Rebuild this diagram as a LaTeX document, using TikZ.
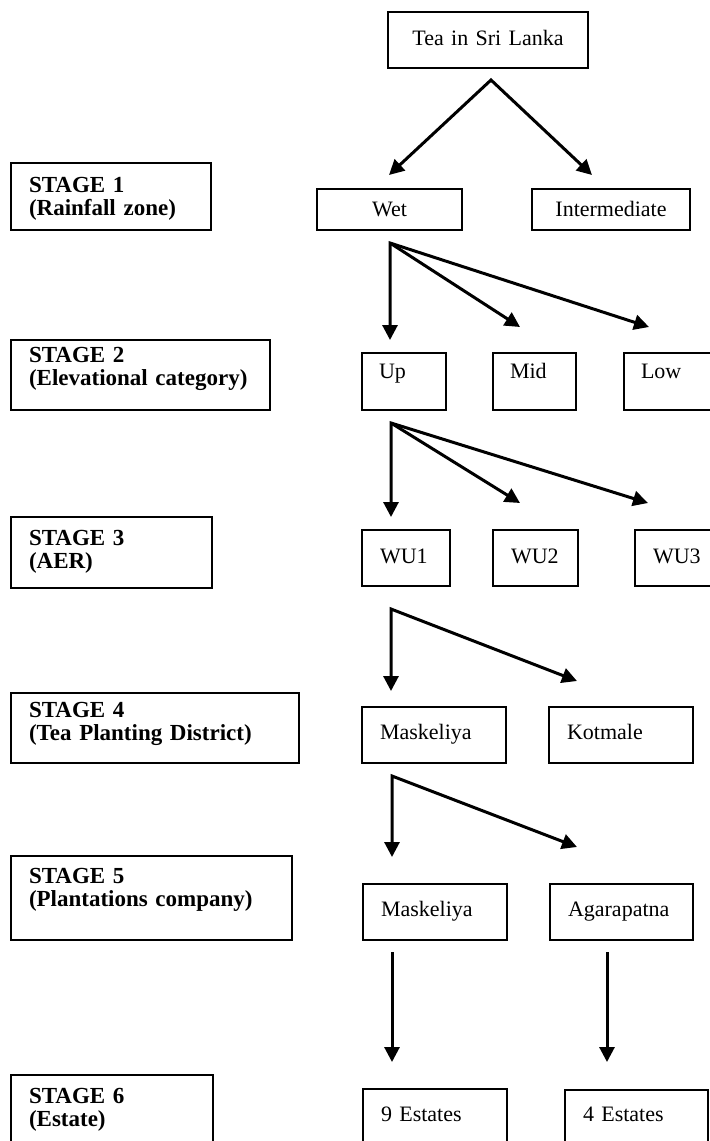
\documentclass[tikz,border=0pt]{standalone}
\usepackage{fontspec}
\setmainfont{Liberation Serif}
\usetikzlibrary{arrows.meta}
\begin{document}
\begin{tikzpicture}[x=0.5pt,y=-0.5pt,
  box/.style={draw, line width=0.9pt, outer sep=0pt, inner ysep=0pt, anchor=north west, font=\fontsize{11}{13}\selectfont},
  cbox/.style={box, align=center, inner xsep=0pt},
  lbox/.style={box, align=left, inner xsep=9pt},
  ubox/.style={box, align=left, inner xsep=8.5pt},
  stagebox/.style={box, align=left, inner xsep=9pt, font=\fontsize{11.5}{11.5}\selectfont\bfseries},
  sz/.style n args={3}{text width=#1, text height=#2, text depth=#3},
  arr/.style={line width=1.5pt, -{Triangle[length=7.5pt,width=7.5pt]}},
  darr/.style={line width=1.5pt, line join=miter, {Triangle[length=7.5pt,width=7.5pt]}-{Triangle[length=7.5pt,width=7.5pt]}}
]
\useasboundingbox (0,0) rectangle (710,1141);
\clip (0,0) rectangle (710,1141);

% stage boxes
\node[stagebox, sz={82pt}{14.5pt}{19pt}] (s1) at (11,163) {STAGE 1\\(Rainfall zone)};
\node[stagebox, sz={111.5pt}{11pt}{24pt}] (s2) at (11,340) {STAGE 2\\(Elevational category)};
\node[stagebox, sz={82.5pt}{14pt}{21.5pt}] (s3) at (11,517) {STAGE 3\\(AER)};
\node[stagebox, sz={126pt}{12pt}{23pt}] (s4) at (11,693) {STAGE 4\\(Tea Planting District)};
\node[stagebox, sz={122.5pt}{13.5pt}{28.5pt}] (s5) at (11,856) {STAGE 5\\(Plantations company)};
\node[stagebox, sz={83pt}{14pt}{26pt}] (s6) at (11,1075) {STAGE 6\\(Estate)};

% hierarchy boxes
\node[cbox, sz={100pt}{16.5pt}{11.5pt}] (tea) at (388,12) {Tea in Sri Lanka};
\node[cbox, sz={72.5pt}{13.5pt}{7pt}] (wet) at (317,189) {Wet};
\node[cbox, sz={79pt}{13.5pt}{7pt}] (inter) at (532,189) {Intermediate};

\node[ubox, sz={25pt}{12.5pt}{16pt}] (up) at (362,353) {Up};
\node[ubox, sz={24.5pt}{12.5pt}{16pt}] (mid) at (493,353) {Mid};
\node[ubox, sz={30.5pt}{12.5pt}{16pt}] (low) at (624,353) {Low};

\node[lbox, sz={26pt}{16.5pt}{11.5pt}] (wu1) at (362,530) {WU1};
\node[lbox, sz={24.5pt}{16.5pt}{11.5pt}] (wu2) at (493,530) {WU2};
\node[lbox, sz={27pt}{16.5pt}{11.5pt}] (wu3) at (635,530) {WU3};

\node[lbox, sz={54pt}{16pt}{12pt}] (mask1) at (362,707) {Maskeliya};
\node[lbox, sz={54pt}{16pt}{12pt}] (kot) at (549,707) {Kotmale};

\node[lbox, sz={54pt}{16pt}{12pt}] (mask2) at (363,884) {Maskeliya};
\node[lbox, sz={53.5pt}{16pt}{12pt}] (agar) at (550,884) {Agarapatna};

\node[lbox, sz={54pt}{16pt}{14pt}] (est9) at (363,1089) {9 Estates};
\node[lbox, sz={53.5pt}{15.5pt}{14.5pt}] (est4) at (565,1090) {4 Estates};

% connector points
\coordinate (a0) at (491,80);
\coordinate (t0l) at (389,175);
\coordinate (t0r) at (592,175);
\coordinate (a1) at (390,243);
\coordinate (t1a) at (390,340);
\coordinate (t1b) at (520,327);
\coordinate (t1c) at (649,327);
\coordinate (a2) at (391,423);
\coordinate (t2a) at (391,517);
\coordinate (t2b) at (520,503);
\coordinate (t2c) at (648,503);
\coordinate (a3) at (391,609);
\coordinate (t3a) at (391,691);
\coordinate (t3b) at (577,681);
\coordinate (a4) at (392,776);
\coordinate (t4a) at (392,857);
\coordinate (t4b) at (577,847);
\coordinate (b1) at (392,952);
\coordinate (e1) at (392,1062);
\coordinate (b2) at (607,952);
\coordinate (e2) at (607,1062);

\draw[darr] (t0l) -- (a0) -- (t0r);
\draw[darr] (t1a) -- (a1) -- (t1c);
\draw[arr] (a1) -- (t1b);
\draw[darr] (t2a) -- (a2) -- (t2c);
\draw[arr] (a2) -- (t2b);
\draw[darr] (t3a) -- (a3) -- (t3b);
\draw[darr] (t4a) -- (a4) -- (t4b);
\draw[arr] (b1) -- (e1);
\draw[arr] (b2) -- (e2);
\end{tikzpicture}
\end{document}
